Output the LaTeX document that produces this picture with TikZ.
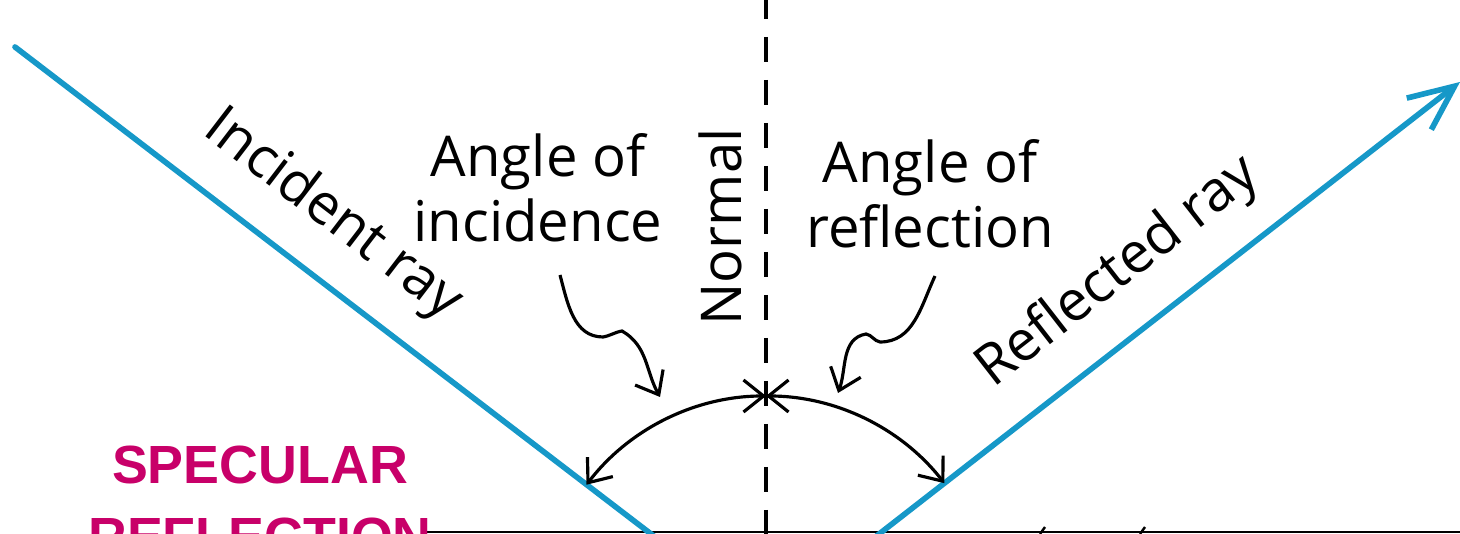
\documentclass[tikz,border=0pt]{standalone}
\usepackage{fontspec}
\setmainfont{Open Sans}
\newfontfamily\titlefont{Liberation Sans}
\usetikzlibrary{arrows.meta,calc,positioning}
\definecolor{raycol}{RGB}{22,152,200}
\definecolor{titlecol}{RGB}{200,0,105}

\begin{document}
\begin{tikzpicture}[
  x=0.1mm, y=0.1mm,
  ray/.style={draw=raycol, line width=1.6pt, line cap=round},
  normline/.style={draw, line width=0.9pt, dash pattern=on 2.5mm off 1.8mm},
  angarc/.style={draw, line width=0.9pt, {Straight Barb[length=2mm,width=3.2mm]}-{Straight Barb[length=2mm,width=3.2mm]}},
  squig/.style={draw, line width=0.9pt, -{Straight Barb[length=2mm,width=3.2mm]}},
  hand/.style={font=\fontsize{16}{18.5}\selectfont, inner sep=0pt},
  title/.style={font=\titlefont\bfseries\fontsize{15.3}{20.5}\selectfont, text=titlecol, align=center, inner sep=0pt}
]
\useasboundingbox (0,0) rectangle (1460,534);
\clip (0,0) rectangle (1460,534);
\fill[white] (0,0) rectangle (1460,534);

\coordinate (src) at (15,487);
\coordinate (hit) at (766,-88);
\coordinate (dst) at (1460,452);
\coordinate (ntop) at (766,540);
\coordinate (mL) at (423,2);
\coordinate (mR) at (1460,2);

\draw[normline] (ntop) -- (hit);
\draw[line width=0.7pt] (mL) -- (mR);
\draw[line width=0.7pt] (1040,0) -- (1045,7);
\draw[line width=0.7pt] (1140,0) -- (1145,7);

\draw[ray] (src) -- (hit) node[pos=0.375, sloped, above=8pt, hand] (inclbl) {Incident ray};
\draw[ray, -{Straight Barb[length=4.5mm,width=4mm]}] (hit) -- (dst) node[pos=0.56, sloped, above=8pt, hand] (refllbl) {Reflected ray};

\draw[angarc] ([shift={(90:226)}]hit) arc[start angle=90, end angle=142.6, radius=226];
\draw[angarc] ([shift={(90:226)}]hit) arc[start angle=90, end angle=37.9, radius=226];

\node[hand, align=center] (incang) at (538,346) {Angle of\\incidence};
\node[hand, align=center] (refang) at (930,340) {Angle of\\reflection};
\node[hand, rotate=90] (normlbl) at (720,307) {Normal};

\draw[squig] ([shift={(22,-32)}]incang.south) to[out=-75,in=180] (603,197)
  to[out=10,in=190] (622,203) to[out=-30,in=119] (660,137);
\draw[squig] ([shift={(5,-27)}]refang.south) to[out=-115,in=0] (880,192)
  to[out=170,in=-10] (866,200) to[out=190,in=70] (838,141);

\node[title, anchor=north] (spec) at (260,89) {SPECULAR\\REFLECTION};
\end{tikzpicture}
\end{document}
